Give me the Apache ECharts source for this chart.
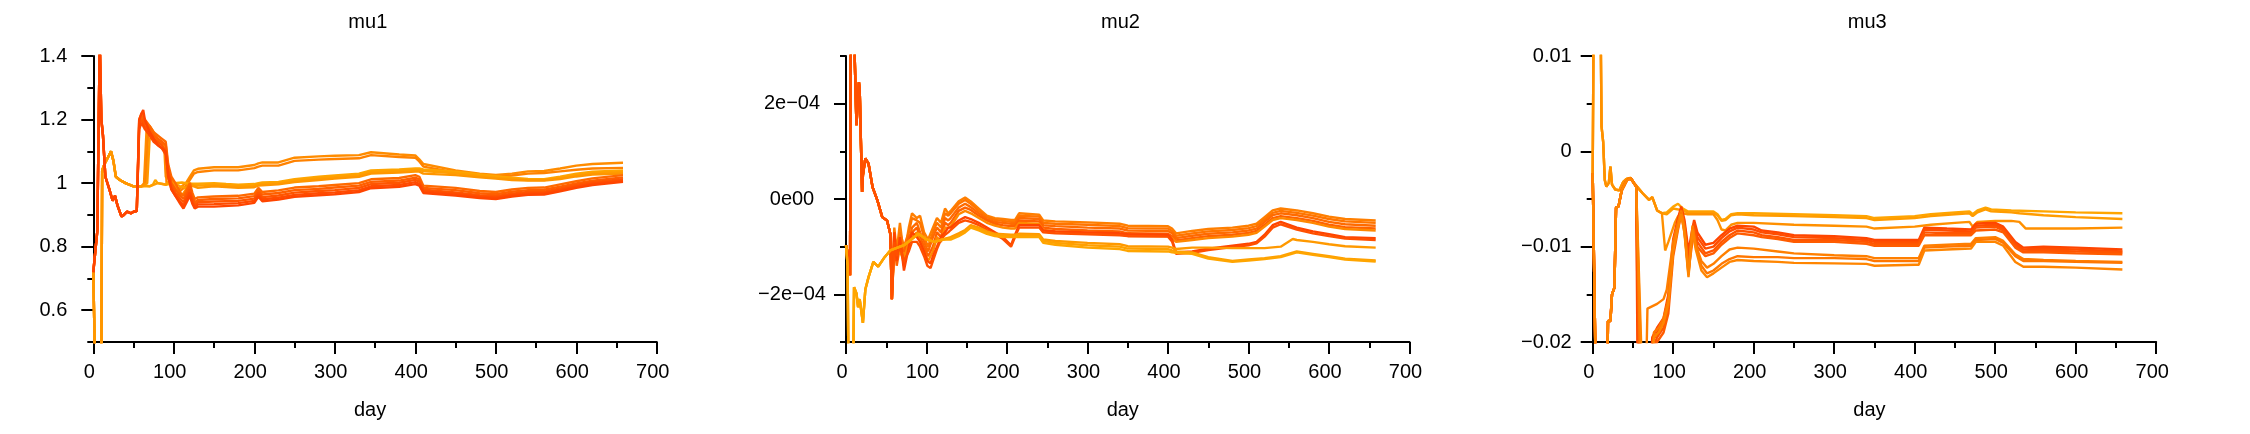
<!DOCTYPE html>
<html>
<head>
<meta charset="utf-8">
<script src="https://cdn.jsdelivr.net/npm/echarts@6/dist/echarts.min.js"></script>
<style>
html,body{margin:0;padding:0;background:#ffffff;}
#chart{width:2250px;height:434px;}
</style>
</head>
<body>
<div id="chart"></div>
<script>
// ---------------- DATA ----------------
const panelTitles = ['mu1', 'mu2', 'mu3'];
const xAxisName = 'day';
const xTickValues = [0, 100, 200, 300, 400, 500, 600, 700];

// mu1 : [day, value]
const mu1_earlyA = [[0,0.72],[5,0.85],[8,1.45],[10,1.2],[12,1.15],[15,1.02],[20,0.98],[24,0.945],[27,0.96],[30,0.93],[35,0.895],[38,0.9],[42,0.91],[47,0.905],[50,0.91],[54,0.912]];
const mu1_earlyB = [[0,0.72],[2,0.45],[10,0.45],[11,1.04],[14,1.06],[18,1.08],[22,1.1],[25,1.07],[28,1.02],[33,1.01],[40,1.0],[50,0.99],[60,0.99]];
const mu1_s1 = [[63,1.0],[66,1.16],[70,1.18],[75,1.16],[80,1.14],[85,1.13],[88,1.12],[90,1.02],[95,1.01],[100,1.0],[106,0.98],[110,0.99],[115,1.0],[120,1.02],[125,1.04],[130,1.045],[150,1.05],[180,1.05],[200,1.057],[205,1.062],[210,1.065],[230,1.065],[250,1.08],[280,1.084],[300,1.086],[330,1.088],[345,1.097],[380,1.09],[400,1.087],[405,1.075],[410,1.06],[450,1.04],[480,1.03],[500,1.026],[520,1.03],[540,1.037],[560,1.038],[580,1.046],[600,1.055],[620,1.06],[658,1.064]];
const mu1_s2 = [[65,1.0],[68,1.15],[72,1.16],[78,1.14],[84,1.13],[89,1.12],[91,1.0],[96,1.0],[100,0.99],[106,0.97],[110,0.98],[115,0.99],[120,1.01],[125,1.03],[130,1.035],[150,1.04],[180,1.04],[200,1.047],[205,1.052],[210,1.055],[230,1.055],[250,1.07],[280,1.074],[300,1.076],[330,1.078],[345,1.088],[380,1.082],[400,1.08],[405,1.068],[410,1.052],[450,1.034],[480,1.025],[500,1.02],[520,1.024],[540,1.03],[560,1.032],[580,1.037],[600,1.042],[620,1.046],[658,1.048]];
const mu1_s3 = [[65,0.992],[70,0.99],[74,0.995],[77,1.01],[80,1.0],[85,0.998],[90,0.995],[100,1.0],[110,1.002],[120,0.998],[130,0.998],[150,1.0],[165,0.997],[180,0.995],[200,0.997],[205,1.0],[210,1.002],[230,1.004],[250,1.012],[280,1.02],[300,1.024],[330,1.03],[345,1.04],[380,1.043],[400,1.046],[405,1.046],[410,1.043],[450,1.036],[480,1.027],[500,1.022],[520,1.017],[540,1.013],[560,1.012],[580,1.02],[600,1.03],[620,1.036],[658,1.04]];
const mu1_s4 = [[70,0.99],[80,1.0],[90,0.995],[95,1.01],[100,1.0],[108,0.99],[115,0.985],[120,0.99],[130,0.992],[150,0.995],[180,0.99],[200,0.992],[205,0.996],[210,0.997],[230,1.0],[250,1.007],[280,1.015],[300,1.019],[330,1.025],[345,1.035],[380,1.038],[400,1.041],[405,1.041],[410,1.038],[450,1.031],[480,1.022],[500,1.017],[520,1.013],[540,1.01],[560,1.01],[580,1.016],[600,1.025],[620,1.031],[658,1.035]];
const mu1_s5 = [[67,1.0],[70,1.14],[75,1.15],[80,1.13],[85,1.12],[89,1.11],[92,1.04],[96,1.02],[100,1.0],[106,0.97],[110,0.96],[115,0.98],[120,1.0],[125,0.99],[130,0.985],[150,0.99],[180,0.985],[200,0.987],[205,0.992],[210,0.993],[230,0.996],[250,1.003],[280,1.01],[300,1.014],[330,1.02],[345,1.03],[380,1.033],[400,1.036],[405,1.036],[410,1.03],[450,1.025],[480,1.018],[500,1.014],[520,1.01],[540,1.008],[560,1.008],[580,1.013],[600,1.021],[620,1.027],[658,1.03]];
const mu1_s6 = [[57,1.2],[60,1.22],[64,1.2],[70,1.18],[75,1.16],[80,1.15],[85,1.14],[90,1.13],[93,1.06],[97,1.02],[102,1.0],[108,0.97],[112,0.96],[116,0.98],[120,1.0],[123,0.97],[126,0.95],[130,0.955],[150,0.958],[180,0.96],[200,0.967],[205,0.985],[210,0.972],[230,0.977],[250,0.986],[280,0.99],[300,0.994],[330,1.0],[345,1.012],[380,1.016],[400,1.025],[405,1.02],[410,0.992],[450,0.985],[480,0.975],[500,0.972],[520,0.98],[540,0.985],[560,0.986],[580,0.996],[600,1.006],[620,1.015],[658,1.025]];
const mu1_s7 = [[57,1.19],[60,1.21],[64,1.19],[70,1.17],[75,1.15],[80,1.14],[85,1.13],[90,1.12],[93,1.05],[97,1.0],[102,0.98],[108,0.96],[112,0.95],[116,0.97],[120,0.99],[123,0.96],[126,0.94],[130,0.947],[150,0.95],[180,0.952],[200,0.959],[205,0.977],[210,0.964],[230,0.969],[250,0.978],[280,0.982],[300,0.986],[330,0.992],[345,1.004],[380,1.008],[400,1.017],[405,1.012],[410,0.985],[450,0.978],[480,0.968],[500,0.965],[520,0.973],[540,0.978],[560,0.979],[580,0.989],[600,0.999],[620,1.008],[658,1.018]];
const mu1_s8 = [[57,1.18],[60,1.2],[64,1.18],[70,1.16],[75,1.14],[80,1.13],[85,1.12],[90,1.1],[93,1.04],[97,0.99],[102,0.97],[108,0.95],[112,0.94],[116,0.96],[120,0.98],[123,0.95],[126,0.93],[130,0.94],[150,0.942],[180,0.944],[200,0.951],[205,0.97],[210,0.956],[230,0.961],[250,0.97],[280,0.975],[300,0.978],[330,0.985],[345,0.997],[380,1.001],[400,1.01],[405,1.005],[410,0.979],[450,0.971],[480,0.962],[500,0.959],[520,0.967],[540,0.972],[560,0.973],[580,0.983],[600,0.994],[620,1.003],[658,1.012]];
const mu1_s9 = [[57,1.17],[60,1.19],[64,1.17],[70,1.15],[75,1.13],[80,1.12],[85,1.11],[90,1.09],[93,1.03],[97,0.98],[102,0.96],[108,0.94],[112,0.93],[116,0.95],[120,0.97],[123,0.94],[126,0.925],[130,0.933],[150,0.934],[180,0.937],[200,0.944],[205,0.963],[210,0.949],[230,0.954],[250,0.963],[280,0.968],[300,0.971],[330,0.978],[345,0.99],[380,0.994],[400,1.003],[405,0.998],[410,0.974],[450,0.966],[480,0.957],[500,0.954],[520,0.962],[540,0.967],[560,0.968],[580,0.978],[600,0.989],[620,0.998],[658,1.008]];
const mu1_s10 = [[57,1.2],[60,1.22],[62,1.23],[64,1.2],[70,1.16],[75,1.14],[80,1.12],[85,1.11],[90,1.1],[93,1.02],[97,0.98],[102,0.96],[108,0.935],[112,0.92],[116,0.94],[120,0.96],[123,0.935],[126,0.92],[130,0.926],[150,0.926],[180,0.93],[200,0.938],[205,0.957],[210,0.943],[230,0.948],[250,0.957],[280,0.962],[300,0.965],[330,0.972],[345,0.984],[380,0.988],[400,0.997],[405,0.992],[410,0.969],[450,0.961],[480,0.953],[500,0.95],[520,0.958],[540,0.963],[560,0.964],[580,0.974],[600,0.985],[620,0.994],[658,1.004]];

// mu2 : [day, value in units of 1e-4]
const MU2_UNIT = 1e-4;
const mu2_earlyC = [[0,-0.97],[3,-1.2],[5,-1.6],[6,3.5],[10,3.5],[13,1.55],[16,2.45],[17,2.3],[20,0.15],[21,0.5],[24,0.85],[28,0.74],[33,0.25],[39,-0.03],[45,-0.38],[51,-0.45],[55,-0.73],[57,-2.1]];
const mu2_earlyD = [[0,-0.97],[2,-1.4],[3,-3.5],[9,-3.5],[10,-1.85],[13,-1.98],[15,-2.27],[17,-2.1],[21,-2.6],[24,-1.9],[28,-1.64],[34,-1.32],[40,-1.42],[48,-1.22],[55,-1.08],[72,-0.97],[90,-0.73],[100,-0.85],[110,-0.9],[120,-0.85]];
const mu2_s1 = [[60,-0.6],[63,-1.1],[67,-0.5],[72,-1.2],[78,-0.6],[82,-0.3],[88,-0.4],[92,-0.35],[97,-0.7],[102,-0.85],[108,-0.6],[113,-0.4],[118,-0.5],[123,-0.2],[127,-0.3],[130,-0.25],[140,-0.05],[148,0.03],[155,-0.05],[165,-0.2],[175,-0.35],[185,-0.4],[195,-0.42],[205,-0.44],[210,-0.44],[215,-0.3],[240,-0.33],[245,-0.45],[260,-0.47],[300,-0.49],[340,-0.52],[350,-0.56],[400,-0.57],[405,-0.62],[410,-0.72],[430,-0.67],[450,-0.63],[480,-0.6],[500,-0.56],[510,-0.52],[520,-0.38],[530,-0.24],[540,-0.2],[560,-0.24],[580,-0.3],[600,-0.37],[620,-0.42],[658,-0.45]];
const mu2_s2 = [[60,-0.8],[63,-1.3],[67,-0.7],[72,-1.0],[78,-0.7],[82,-0.4],[88,-0.45],[92,-0.5],[97,-0.8],[102,-1.0],[108,-0.7],[113,-0.5],[118,-0.6],[123,-0.3],[127,-0.35],[130,-0.3],[140,-0.1],[148,-0.02],[155,-0.1],[165,-0.25],[175,-0.38],[185,-0.44],[195,-0.46],[205,-0.48],[210,-0.48],[215,-0.35],[240,-0.37],[245,-0.5],[260,-0.52],[300,-0.54],[340,-0.57],[350,-0.61],[400,-0.62],[405,-0.67],[410,-0.77],[430,-0.72],[450,-0.68],[480,-0.65],[500,-0.61],[510,-0.57],[520,-0.43],[530,-0.29],[540,-0.25],[560,-0.29],[580,-0.35],[600,-0.42],[620,-0.47],[658,-0.5]];
const mu2_s3 = [[60,-0.7],[63,-1.2],[67,-0.9],[72,-1.4],[78,-0.9],[82,-0.6],[88,-0.5],[92,-0.7],[97,-0.9],[102,-1.1],[108,-0.8],[113,-0.6],[118,-0.7],[123,-0.4],[127,-0.45],[130,-0.4],[140,-0.18],[148,-0.1],[155,-0.17],[165,-0.3],[175,-0.42],[185,-0.48],[195,-0.5],[205,-0.52],[210,-0.52],[215,-0.4],[240,-0.42],[245,-0.55],[260,-0.57],[300,-0.6],[340,-0.62],[350,-0.66],[400,-0.67],[405,-0.72],[410,-0.82],[430,-0.77],[450,-0.73],[480,-0.7],[500,-0.66],[510,-0.62],[520,-0.48],[530,-0.34],[540,-0.3],[560,-0.34],[580,-0.4],[600,-0.48],[620,-0.53],[658,-0.56]];
const mu2_s4 = [[60,-0.9],[63,-1.4],[67,-1.0],[72,-1.1],[78,-0.8],[82,-0.7],[88,-0.6],[92,-0.8],[97,-1.0],[102,-1.2],[108,-1.0],[113,-0.7],[118,-0.8],[123,-0.5],[127,-0.55],[130,-0.5],[140,-0.25],[148,-0.18],[155,-0.23],[165,-0.35],[175,-0.45],[185,-0.52],[195,-0.55],[205,-0.57],[210,-0.57],[215,-0.45],[240,-0.47],[245,-0.6],[260,-0.63],[300,-0.66],[340,-0.68],[350,-0.72],[400,-0.73],[405,-0.78],[410,-0.87],[430,-0.82],[450,-0.78],[480,-0.75],[500,-0.71],[510,-0.67],[520,-0.54],[530,-0.4],[540,-0.36],[560,-0.4],[580,-0.46],[600,-0.54],[620,-0.59],[658,-0.62]];
const mu2_s5 = [[60,-1.0],[63,-1.2],[67,-1.1],[72,-1.3],[78,-0.9],[82,-0.8],[88,-0.7],[92,-0.9],[97,-1.1],[102,-1.3],[108,-1.1],[113,-0.8],[118,-0.9],[123,-0.6],[127,-0.6],[130,-0.58],[140,-0.32],[148,-0.25],[155,-0.3],[165,-0.4],[175,-0.5],[185,-0.56],[195,-0.6],[205,-0.62],[210,-0.62],[215,-0.5],[240,-0.52],[245,-0.65],[260,-0.68],[300,-0.72],[340,-0.74],[350,-0.77],[400,-0.78],[405,-0.82],[410,-0.9],[430,-0.86],[450,-0.82],[480,-0.79],[500,-0.75],[510,-0.71],[520,-0.58],[530,-0.44],[540,-0.4],[560,-0.44],[580,-0.5],[600,-0.58],[620,-0.63],[658,-0.66]];
const mu2_s6 = [[60,-0.7],[63,-1.3],[67,-0.8],[72,-1.5],[78,-1.0],[82,-0.7],[88,-0.8],[92,-0.9],[97,-1.1],[101,-1.3],[105,-1.35],[108,-1.2],[113,-1.0],[118,-0.8],[123,-0.7],[127,-0.6],[130,-0.6],[140,-0.45],[148,-0.38],[155,-0.42],[165,-0.5],[175,-0.6],[185,-0.7],[195,-0.8],[205,-0.97],[210,-0.75],[215,-0.55],[240,-0.55],[245,-0.66],[260,-0.68],[300,-0.7],[340,-0.72],[350,-0.74],[400,-0.75],[405,-0.85],[410,-1.12],[430,-1.1],[450,-1.04],[480,-0.98],[500,-0.94],[510,-0.9],[520,-0.75],[530,-0.55],[540,-0.48],[560,-0.6],[580,-0.68],[600,-0.74],[620,-0.8],[658,-0.82]];
const mu2_s7 = [[60,-0.9],[63,-1.2],[67,-1.0],[72,-1.3],[78,-1.1],[82,-0.9],[88,-0.9],[92,-1.0],[97,-1.2],[101,-1.4],[105,-1.45],[108,-1.3],[113,-1.05],[118,-0.85],[123,-0.75],[127,-0.7],[130,-0.65],[140,-0.5],[148,-0.45],[155,-0.48],[165,-0.55],[175,-0.65],[185,-0.74],[195,-0.84],[205,-1.0],[210,-0.8],[215,-0.6],[240,-0.6],[245,-0.7],[260,-0.72],[300,-0.74],[340,-0.76],[350,-0.78],[400,-0.79],[405,-0.89],[410,-1.15],[430,-1.13],[450,-1.07],[480,-1.01],[500,-0.97],[510,-0.93],[520,-0.79],[530,-0.6],[540,-0.53],[560,-0.64],[580,-0.72],[600,-0.78],[620,-0.83],[658,-0.86]];
const mu2_s8 = [[130,-0.8],[140,-0.72],[148,-0.65],[155,-0.55],[165,-0.6],[175,-0.68],[185,-0.73],[195,-0.74],[205,-0.75],[210,-0.75],[215,-0.73],[240,-0.74],[245,-0.85],[260,-0.88],[300,-0.92],[340,-0.95],[350,-0.99],[400,-1.0],[405,-1.02],[410,-1.05],[430,-1.02],[450,-1.02],[480,-1.03],[500,-1.03],[520,-1.03],[540,-1.0],[555,-0.84],[560,-0.86],[580,-0.9],[600,-0.95],[620,-0.99],[658,-1.02]];
const mu2_s9 = [[130,-0.82],[140,-0.75],[148,-0.68],[155,-0.58],[165,-0.63],[175,-0.7],[185,-0.75],[195,-0.76],[205,-0.77],[210,-0.77],[215,-0.76],[240,-0.77],[245,-0.88],[260,-0.92],[300,-0.97],[340,-1.0],[350,-1.04],[400,-1.05],[405,-1.08],[410,-1.1],[430,-1.12],[450,-1.22],[480,-1.3],[500,-1.27],[520,-1.24],[540,-1.2],[560,-1.1],[580,-1.15],[600,-1.2],[620,-1.25],[658,-1.29]];
const mu2_s10 = [[130,-0.85],[140,-0.78],[148,-0.7],[155,-0.6],[165,-0.66],[175,-0.73],[185,-0.78],[195,-0.8],[205,-0.8],[210,-0.8],[215,-0.8],[240,-0.8],[245,-0.92],[260,-0.96],[300,-1.02],[340,-1.05],[350,-1.09],[400,-1.1],[405,-1.12],[410,-1.13],[430,-1.15],[450,-1.25],[480,-1.32],[500,-1.29],[520,-1.26],[540,-1.22],[560,-1.12],[580,-1.17],[600,-1.22],[620,-1.27],[658,-1.31]];

// mu3 : [day, value]
const mu3_earlyE = [[0,-0.0023],[1,0.012],[10,0.012],[11,0.0026],[13,0.001],[15,-0.003],[17,-0.0037],[20,-0.0033],[22,-0.0016],[24,-0.0035],[28,-0.004],[33,-0.0041],[38,-0.0032],[42,-0.0029],[47,-0.0028],[51,-0.0033],[55,-0.0037],[62,-0.0044],[70,-0.0051],[74,-0.0048],[80,-0.0062],[86,-0.0065]];
const mu3_earlyF = [[0,-0.0023],[4,-0.025],[18,-0.025],[19,-0.0178],[22,-0.0178],[24,-0.015],[27,-0.0143],[29,-0.0059],[32,-0.0058],[36,-0.0041],[42,-0.0031],[47,-0.0028],[51,-0.0033],[54,-0.0037]];
const mu3_s1 = [[92,-0.0064],[100,-0.0058],[106,-0.0055],[112,-0.006],[118,-0.0063],[125,-0.0063],[140,-0.0063],[150,-0.0063],[155,-0.0066],[160,-0.0072],[165,-0.0071],[172,-0.0066],[180,-0.0065],[200,-0.0065],[250,-0.0066],[300,-0.0067],[340,-0.0068],[350,-0.007],[400,-0.0068],[420,-0.0066],[450,-0.0064],[468,-0.0063],[472,-0.0066],[478,-0.0062],[488,-0.0059],[495,-0.0061],[520,-0.0062],[560,-0.0063],[600,-0.0064],[658,-0.0065]];
const mu3_s2 = [[92,-0.0066],[100,-0.006],[112,-0.0062],[118,-0.0064],[125,-0.0064],[140,-0.0064],[150,-0.0064],[155,-0.0067],[160,-0.0073],[165,-0.0072],[172,-0.0067],[180,-0.0066],[200,-0.0067],[250,-0.0068],[300,-0.0069],[340,-0.007],[350,-0.0072],[400,-0.007],[420,-0.0068],[450,-0.0066],[468,-0.0065],[472,-0.0068],[478,-0.0064],[488,-0.0061],[495,-0.0063],[520,-0.0064],[530,-0.0065],[560,-0.0067],[600,-0.0069],[658,-0.0071]];
const mu3_s3 = [[88,-0.0063],[90,-0.0104],[94,-0.0095],[98,-0.0085],[102,-0.0075],[106,-0.0068],[112,-0.0065],[118,-0.0066],[125,-0.0066],[140,-0.0066],[150,-0.0066],[155,-0.0072],[160,-0.0082],[165,-0.0083],[172,-0.0077],[180,-0.0075],[200,-0.0075],[250,-0.0077],[300,-0.0078],[340,-0.0079],[350,-0.0081],[400,-0.0079],[420,-0.0077],[450,-0.0075],[468,-0.0074],[472,-0.0079],[478,-0.0074],[500,-0.0073],[520,-0.0073],[530,-0.0074],[538,-0.0081],[560,-0.0081],[600,-0.0081],[658,-0.008]];
const mu3_s4 = [[56,-0.025],[70,-0.025],[74,-0.0195],[80,-0.0185],[88,-0.0175],[94,-0.015],[100,-0.0092],[106,-0.007],[110,-0.0058],[114,-0.0072],[119,-0.0105],[123,-0.0085],[126,-0.0072],[130,-0.0085],[140,-0.0098],[150,-0.0096],[160,-0.0088],[170,-0.0081],[180,-0.0078],[200,-0.0079],[210,-0.0083],[230,-0.0085],[250,-0.0088],[300,-0.0089],[340,-0.0091],[350,-0.0093],[400,-0.0093],[405,-0.0093],[412,-0.008],[440,-0.0081],[470,-0.0082],[476,-0.0076],[490,-0.0075],[500,-0.0075],[510,-0.0079],[525,-0.0095],[535,-0.0101],[560,-0.01],[600,-0.0101],[658,-0.0103]];
const mu3_s5 = [[57,-0.025],[70,-0.025],[74,-0.02],[80,-0.019],[88,-0.018],[94,-0.0155],[100,-0.0098],[106,-0.0074],[110,-0.006],[114,-0.0076],[119,-0.011],[123,-0.009],[126,-0.0075],[130,-0.009],[140,-0.0102],[150,-0.01],[160,-0.0091],[170,-0.0084],[180,-0.008],[200,-0.0082],[210,-0.0085],[230,-0.0087],[250,-0.009],[300,-0.0091],[340,-0.0093],[350,-0.0095],[400,-0.0095],[405,-0.0095],[412,-0.0082],[440,-0.0083],[470,-0.0084],[476,-0.0078],[500,-0.0077],[510,-0.0081],[525,-0.0097],[535,-0.0103],[560,-0.0102],[600,-0.0103],[658,-0.0105]];
const mu3_s6 = [[58,-0.025],[71,-0.025],[74,-0.021],[80,-0.0195],[88,-0.0185],[94,-0.016],[100,-0.0103],[106,-0.0078],[110,-0.0063],[114,-0.008],[119,-0.0118],[123,-0.0095],[126,-0.008],[130,-0.0095],[140,-0.0107],[150,-0.0104],[160,-0.0095],[170,-0.0088],[180,-0.0083],[200,-0.0085],[210,-0.0088],[230,-0.009],[250,-0.0093],[300,-0.0093],[340,-0.0095],[350,-0.0097],[400,-0.0097],[405,-0.0097],[412,-0.0085],[440,-0.0086],[470,-0.0086],[476,-0.008],[500,-0.0079],[510,-0.0083],[525,-0.0099],[535,-0.0105],[560,-0.0104],[600,-0.0105],[658,-0.0106]];
const mu3_s7 = [[59,-0.025],[72,-0.025],[74,-0.022],[80,-0.02],[88,-0.019],[94,-0.017],[100,-0.011],[106,-0.0082],[110,-0.0066],[114,-0.0085],[119,-0.0125],[123,-0.01],[126,-0.0085],[130,-0.01],[140,-0.011],[150,-0.0107],[160,-0.0098],[170,-0.0091],[180,-0.0086],[200,-0.0088],[210,-0.009],[230,-0.0092],[250,-0.0095],[300,-0.0095],[340,-0.0097],[350,-0.0099],[400,-0.0099],[405,-0.0099],[412,-0.0088],[440,-0.0088],[470,-0.0088],[476,-0.0083],[500,-0.0082],[510,-0.0085],[525,-0.0101],[535,-0.0106],[560,-0.0106],[600,-0.0107],[658,-0.0108]];
const mu3_s8 = [[60,-0.025],[66,-0.025],[68,-0.0165],[80,-0.016],[88,-0.0155],[92,-0.0145],[96,-0.012],[100,-0.0095],[106,-0.0075],[110,-0.0062],[114,-0.008],[119,-0.0128],[124,-0.0078],[128,-0.0098],[135,-0.0115],[142,-0.0122],[150,-0.0118],[160,-0.011],[170,-0.0103],[180,-0.0101],[200,-0.0102],[230,-0.0105],[250,-0.0107],[300,-0.0109],[340,-0.011],[350,-0.0112],[400,-0.0112],[405,-0.0112],[412,-0.0099],[440,-0.0098],[470,-0.0097],[476,-0.0091],[500,-0.009],[510,-0.0094],[525,-0.0108],[535,-0.0113],[560,-0.0114],[600,-0.0115],[658,-0.0116]];
const mu3_s9 = [[61,-0.025],[72,-0.025],[76,-0.019],[82,-0.0185],[88,-0.0175],[94,-0.0155],[100,-0.01],[106,-0.0076],[110,-0.0064],[114,-0.0083],[119,-0.013],[124,-0.008],[128,-0.01],[135,-0.012],[142,-0.0128],[150,-0.0125],[160,-0.0118],[170,-0.0113],[180,-0.011],[200,-0.0111],[230,-0.0111],[250,-0.0112],[300,-0.0112],[340,-0.0113],[350,-0.0115],[400,-0.0115],[405,-0.0115],[412,-0.0101],[440,-0.01],[470,-0.0099],[476,-0.0093],[500,-0.0092],[510,-0.0096],[525,-0.011],[535,-0.0115],[560,-0.0115],[600,-0.0116],[658,-0.0117]];
const mu3_s10 = [[62,-0.025],[72,-0.025],[76,-0.0195],[82,-0.019],[88,-0.018],[94,-0.016],[100,-0.0105],[106,-0.008],[110,-0.0066],[114,-0.0086],[119,-0.0132],[124,-0.0082],[128,-0.0103],[135,-0.0125],[142,-0.0132],[150,-0.0128],[160,-0.0122],[170,-0.0116],[180,-0.0114],[200,-0.0115],[230,-0.0116],[250,-0.0117],[300,-0.01175],[340,-0.0118],[350,-0.012],[400,-0.0119],[405,-0.0119],[412,-0.0104],[440,-0.0103],[470,-0.0102],[476,-0.0095],[500,-0.0095],[510,-0.0099],[525,-0.0116],[535,-0.0121],[560,-0.0121],[600,-0.0122],[658,-0.0124]];

// which early path each series continues
const mu1_parts = [[mu1_earlyB, mu1_s1],[mu1_earlyB, mu1_s2],[mu1_earlyB, mu1_s3],[mu1_earlyB, mu1_s4],[mu1_earlyB, mu1_s5],[mu1_earlyA, mu1_s6],[mu1_earlyA, mu1_s7],[mu1_earlyA, mu1_s8],[mu1_earlyA, mu1_s9],[mu1_earlyA, mu1_s10]];
const mu2_parts = [[mu2_earlyC, mu2_s1],[mu2_earlyC, mu2_s2],[mu2_earlyC, mu2_s3],[mu2_earlyC, mu2_s4],[mu2_earlyC, mu2_s5],[mu2_earlyC, mu2_s6],[mu2_earlyC, mu2_s7],[mu2_earlyD, mu2_s8],[mu2_earlyD, mu2_s9],[mu2_earlyD, mu2_s10]];
const mu3_parts = [[mu3_earlyE, mu3_s1],[mu3_earlyE, mu3_s2],[mu3_earlyE, mu3_s3],[mu3_earlyF, mu3_s4],[mu3_earlyF, mu3_s5],[mu3_earlyF, mu3_s6],[mu3_earlyF, mu3_s7],[mu3_earlyF, mu3_s8],[mu3_earlyF, mu3_s9],[mu3_earlyF, mu3_s10]];

// ---------------- STYLE ----------------
const mu1Colors = ['#FF8C00','#FF8200','#FFA500','#FF9E00','#FF9600','#FF6A00','#FF6000','#FF5600','#FF4C00','#FF4500'];
const mu2Colors = ['#FF7F00','#FF7500','#FF6B00','#FF6200','#FF8800','#FF4500','#FF5000','#FF9900','#FFA000','#FFA500'];
const mu3Colors = ['#FFA500','#FF9C00','#FF9000','#FF4500','#FF4D00','#FF5500','#FF5C00','#FF7F00','#FF7700','#FF8500'];

const FONT = 'Liberation Sans, Arial, Helvetica, sans-serif';
const PANEL_LEFT = [93.3, 846, 1592.7];
const PLOT_W = 563.5, PLOT_TOP = 56, PLOT_H = 286;

function sciLabel(v) {
  if (Math.abs(v) < 1e-12) return '0e00';
  const e = Math.floor(Math.log10(Math.abs(v)) + 1e-9);
  const m = Math.round(v / Math.pow(10, e));
  const es = (e < 0 ? '\u2212' : '+') + String(Math.abs(e)).padStart(2, '0');
  return (m < 0 ? '\u2212' : '') + Math.abs(m) + 'e' + es;
}
function plainLabel(v) {
  return String(+v.toFixed(6)).replace('-', '\u2212');
}

const panels = [
  { parts: mu1_parts, colors: mu1Colors, scale: 1, yMin: 0.5, yMax: 1.4, minorStep: 0.1, majMin: 0.6, majMax: 1.4, majStep: 0.2, fmt: plainLabel, align: 'right', margin: 26 },
  { parts: mu2_parts, colors: mu2Colors, scale: MU2_UNIT, yMin: -3e-4, yMax: 3e-4, minorStep: 1e-4, majMin: -2e-4, majMax: 2e-4, majStep: 2e-4, fmt: sciLabel, align: 'center', margin: 54 },
  { parts: mu3_parts, colors: mu3Colors, scale: 1, yMin: -0.02, yMax: 0.01, minorStep: 0.005, majMin: -0.02, majMax: 0.01, majStep: 0.01, fmt: plainLabel, align: 'right', margin: 21 }
];

const grids = [], xAxes = [], yAxes = [], series = [], titles = [];
const black = { color: '#000', width: 2 };

panels.forEach((p, i) => {
  const left = PANEL_LEFT[i];
  const span = p.yMax - p.yMin;
  const gTop = PLOT_TOP + (p.yMax - p.majMax) / span * PLOT_H;
  const gH = (p.majMax - p.majMin) / span * PLOT_H;
  const main = grids.length;
  grids.push({ left: left, top: PLOT_TOP, width: PLOT_W, height: PLOT_H, containLabel: false, outerBoundsMode: 'none' });
  grids.push({ left: left, top: gTop, width: PLOT_W, height: gH, containLabel: false, outerBoundsMode: 'none' });

  xAxes.push({
    type: 'value', gridIndex: main, min: xTickValues[0], max: xTickValues[xTickValues.length - 1], interval: xTickValues[1] - xTickValues[0],
    axisLine: { show: true, onZero: false, lineStyle: black },
    axisTick: { show: true, length: 12, lineStyle: black },
    minorTick: { show: true, splitNumber: 2, length: 6, lineStyle: black },
    splitLine: { show: false },
    axisLabel: { color: '#000', fontSize: 20, fontFamily: FONT, margin: 20, padding: [0, 8, 0, 0] },
    name: xAxisName, nameLocation: 'middle', nameGap: 58,
    nameTextStyle: { color: '#000', fontSize: 20, fontFamily: FONT, padding: [0, 10, 0, 0] }
  });
  xAxes.push({ type: 'value', gridIndex: main + 1, min: 0, max: 700, show: false });

  yAxes.push({
    type: 'value', gridIndex: main, min: p.yMin, max: p.yMax, interval: p.minorStep,
    axisLine: { show: true, onZero: false, lineStyle: black },
    axisTick: { show: true, length: 6, lineStyle: black },
    axisLabel: { show: false },
    splitLine: { show: false }
  });
  yAxes.push({
    type: 'value', gridIndex: main + 1, min: p.majMin, max: p.majMax, interval: p.majStep,
    axisLine: { show: false },
    axisTick: { show: true, length: 12, lineStyle: black },
    axisLabel: { show: true, color: '#000', fontSize: 20, fontFamily: FONT, align: p.align, margin: p.margin, formatter: p.fmt },
    splitLine: { show: false }
  });

  titles.push({
    text: panelTitles[i], left: left + 274.5, top: 12, textAlign: 'center', padding: 0,
    textStyle: { color: '#000', fontSize: 20, fontWeight: 'normal', fontFamily: FONT }
  });

  p.parts.forEach((pr, k) => {
    const data = pr[0].concat(pr[1]).map(d => [d[0], d[1] * p.scale]);
    series.push({
      type: 'line', xAxisIndex: main, yAxisIndex: main, data: data,
      showSymbol: false, symbol: 'none', clip: true, silent: true,
      lineStyle: { color: p.colors[k], width: 2.4 },
      itemStyle: { color: p.colors[k] }
    });
  });
});

const chart = echarts.init(document.getElementById('chart'), null, { renderer: 'canvas', width: 2250, height: 434 });
chart.setOption({
  backgroundColor: '#ffffff',
  animation: false,
  title: titles,
  grid: grids,
  xAxis: xAxes,
  yAxis: yAxes,
  series: series
});
</script>
</body>
</html>
